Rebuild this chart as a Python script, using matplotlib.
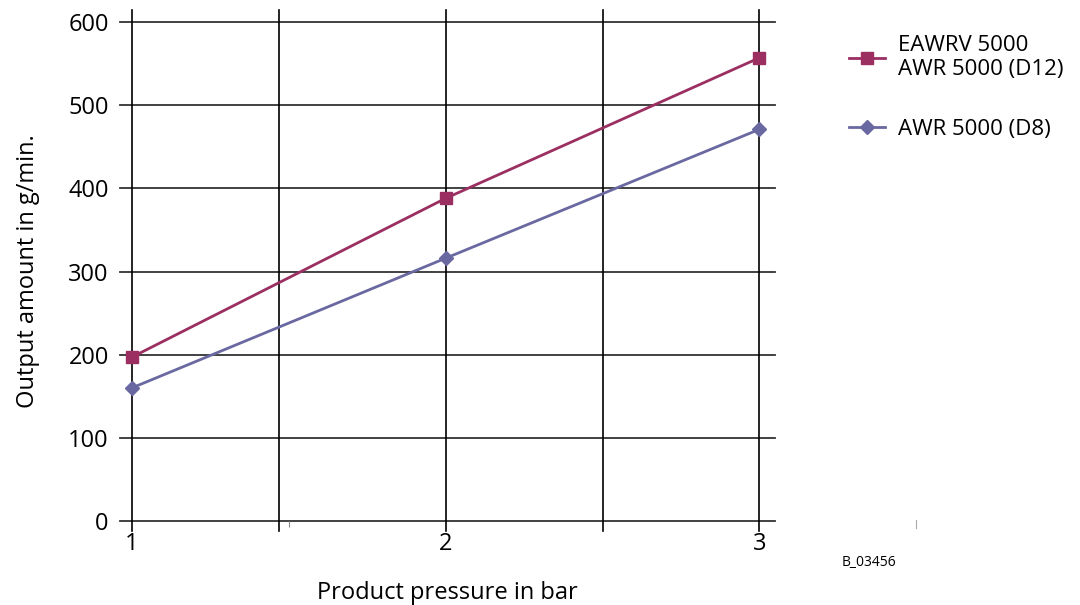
import matplotlib.pyplot as plt

plt.rcParams['font.family'] = ['Open Sans', 'DejaVu Sans']

# Datos
pressure = [1, 2, 3]
output_d12 = [197, 388, 557]
output_d8 = [160, 316, 471]
label_d12 = 'EAWRV 5000\nAWR 5000 (D12)'
label_d8 = 'AWR 5000 (D8)'
y_ticks = [0, 100, 200, 300, 400, 500, 600]
x_ticks = [1, 2, 3]
x_grid = [1, 1.47, 2, 2.5, 3]

fig = plt.figure(figsize=(10.8, 6.05), dpi=100)
ax = fig.add_axes([0.111, 0.1388, 0.607, 0.8248])

# Rejilla dibujada a mano (sobresale de los ejes)
for y in y_ticks:
    ax.axhline(y, color='#333333', lw=1.3, clip_on=False, zorder=1)
for x in x_grid:
    ax.plot([x, x], [-12, 615], color='black', lw=1.2, clip_on=False, zorder=1)

ax.plot(pressure, output_d12, '-s', color='#9b2f62', lw=2, ms=8,
        label=label_d12, zorder=3, clip_on=False)
ax.plot(pressure, output_d8, '-D', color='#6a68a0', lw=2, ms=7,
        label=label_d8, zorder=3, clip_on=False)

ax.set_xlim(0.962, 3.051)
ax.set_ylim(0, 600)
for s in ax.spines.values():
    s.set_visible(False)

ax.set_yticks(y_ticks)
ax.set_yticklabels([str(v) for v in y_ticks], fontsize=17)
ax.set_xticks(x_ticks)
ax.set_xticklabels([str(v) for v in x_ticks], fontsize=17)
ax.set_xticks([1.5], minor=True)
ax.tick_params(axis='both', length=0, pad=8)
ax.tick_params(axis='x', which='minor', length=4, color='#888888', width=0.8)

ax.set_xlabel('Product pressure in bar', fontsize=17, labelpad=18)
ax.set_ylabel('Output amount in g/min.', fontsize=17, labelpad=20)

leg = fig.legend(loc='upper left', bbox_to_anchor=(0.768, 0.975), frameon=False,
                 fontsize=16, handlelength=1.6, labelspacing=1.75,
                 handletextpad=0.6)

fig.text(0.805, 0.065, 'B_03456', fontsize=10, ha='center')
fig.add_artist(plt.Line2D([0.848, 0.848], [0.128, 0.140], color='#aaaaaa', lw=0.8))

plt.savefig('out.png', dpi=100)
